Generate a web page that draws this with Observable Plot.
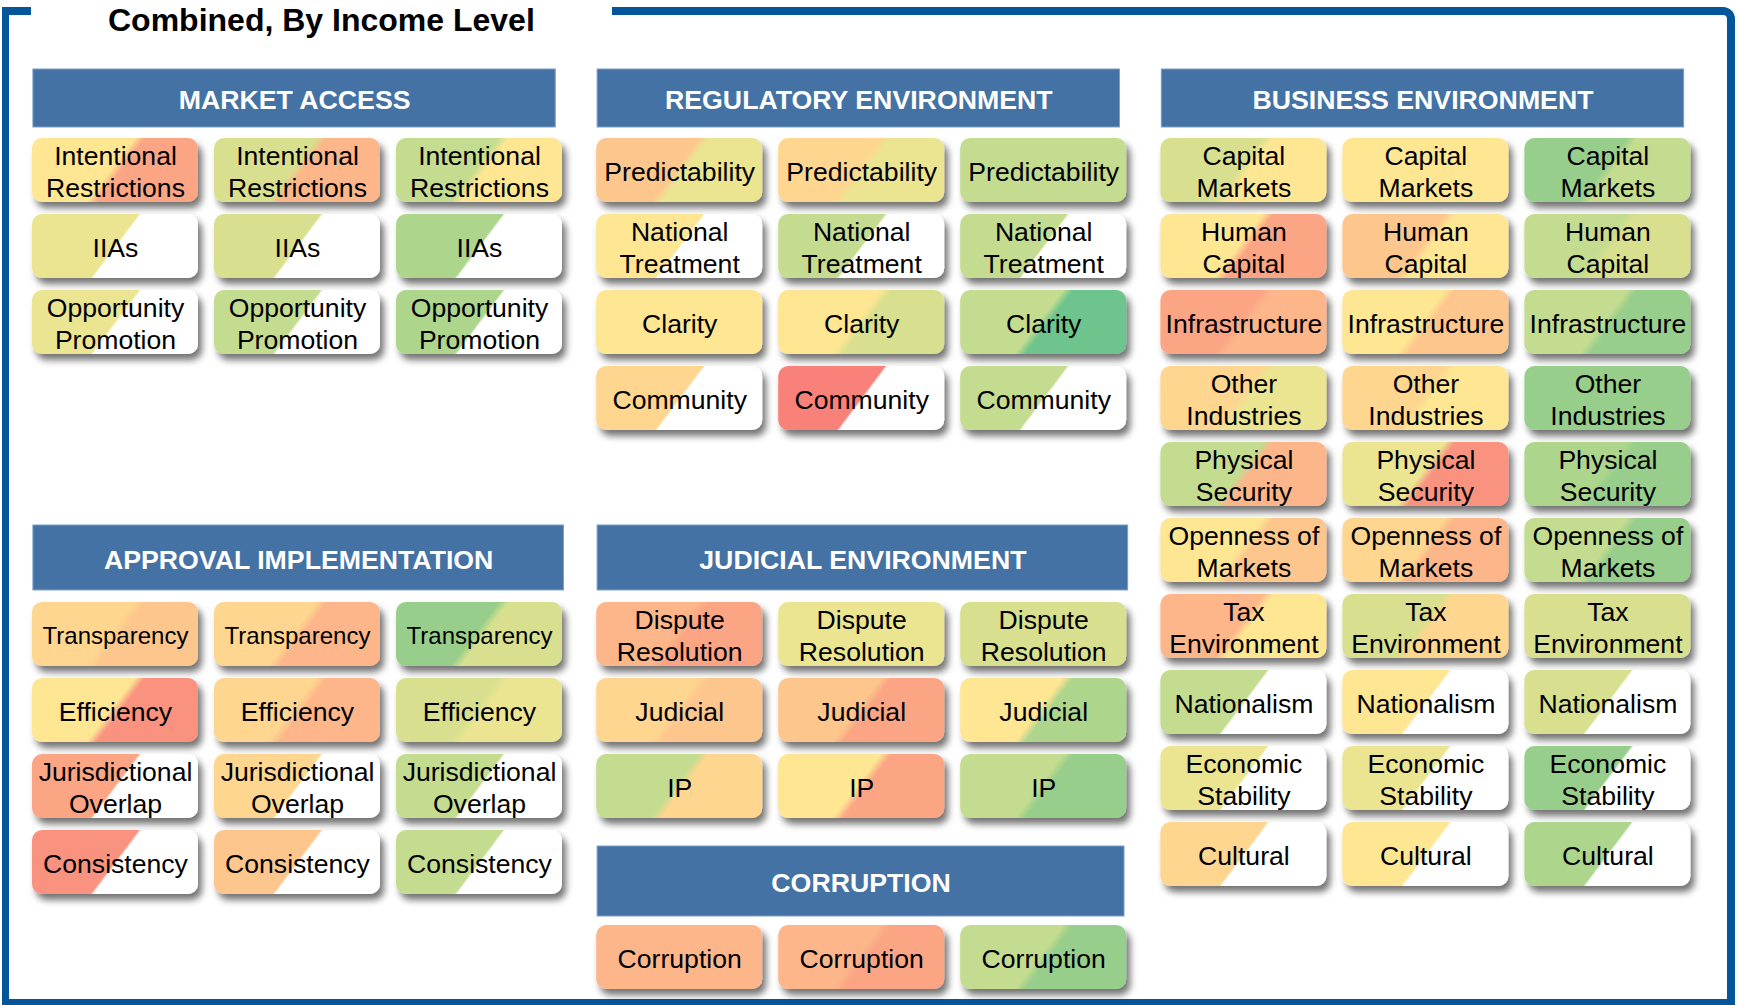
<!DOCTYPE html>
<html>
<head>
<meta charset="utf-8">
<script src="https://cdn.jsdelivr.net/npm/d3@7"></script>
<script src="https://cdn.jsdelivr.net/npm/@observablehq/plot@0.6"></script>
<style>
  html, body { margin: 0; padding: 0; background: #fff; overflow: hidden; }
  #page { position: relative; width: 1737px; height: 1005px; font-family: "Liberation Sans", Arial, sans-serif; }
  #frame { position: absolute; left: 2px; top: 7px; width: 1733px; height: 998px; box-sizing: border-box;
           border-style: solid; border-color: #03569a; border-width: 8px 8px 6px 7px; border-radius: 0 12px 0 0; }
  #mask { position: absolute; left: 31px; top: 0; width: 581px; height: 22px; background: #fff; }
  #title { position: absolute; left: 108px; top: 4px; font-size: 32px; line-height: 32px; font-weight: bold; color: #000; white-space: nowrap; }
  #chart { position: absolute; left: 0; top: 0; }
</style>
</head>
<body>
<div id="page">
  <div id="frame"></div>
  <div id="mask"></div>
  <div id="title">Combined, By Income Level</div>
  <div id="chart"></div>
</div>
<script>
// ---------------- DATA ----------------
// Three income groups (tile columns inside each section)
const incomeGroups = ["Low income", "Middle income", "High income"];

// Colour levels: 0 = no rating (white), 1 = worst (red) ... 13 = best (green)
const levelDomain = [0, 1, 2, 3, 4, 5, 6, 7, 8, 9, 10, 11, 12, 13];
const levelColors = ["#ffffff", "#f8817a", "#f9927f", "#fba585", "#fcb689", "#fdc68c", "#fed68f",
                     "#fee693", "#ebe592", "#d8e08f", "#c4dc8f", "#add58c", "#98ce8b", "#6dc48c"];

const sectionNames = ["MARKET ACCESS", "REGULATORY ENVIRONMENT", "BUSINESS ENVIRONMENT",
                      "APPROVAL IMPLEMENTATION", "JUDICIAL ENVIRONMENT", "CORRUPTION"];

const marketAccessFactors = ["Intentional\nRestrictions", "IIAs", "Opportunity\nPromotion"];
const marketAccessLeft  = [[7, 9, 10], [8, 9, 11], [8, 10, 11]];
const marketAccessRight = [[3, 4, 7], [0, 0, 0], [0, 0, 0]];

const regulatoryFactors = ["Predictability", "National\nTreatment", "Clarity", "Community"];
const regulatoryLeft  = [[5, 6, 10], [7, 10, 10], [7, 7, 10], [6, 1, 10]];
const regulatoryRight = [[8, 8, 10], [0, 0, 0], [7, 9, 13], [0, 0, 0]];

const businessFactors = ["Capital\nMarkets", "Human\nCapital", "Infrastructure", "Other\nIndustries",
                         "Physical\nSecurity", "Openness of\nMarkets", "Tax\nEnvironment", "Nationalism",
                         "Economic\nStability", "Cultural"];
const businessLeft  = [[9, 7, 12], [7, 5, 10], [3, 7, 10], [6, 6, 12], [10, 8, 11],
                       [7, 6, 10], [4, 9, 9], [10, 7, 9], [8, 8, 12], [6, 7, 11]];
const businessRight = [[7, 7, 10], [3, 7, 9], [4, 5, 12], [8, 7, 12], [4, 2, 12],
                       [5, 4, 12], [7, 6, 9], [0, 0, 0], [0, 0, 0], [0, 0, 0]];

const approvalFactors = ["Transparency", "Efficiency", "Jurisdictional\nOverlap", "Consistency"];
const approvalLeft  = [[6, 6, 12], [7, 6, 9], [3, 6, 10], [2, 5, 10]];
const approvalRight = [[5, 4, 9], [2, 4, 8], [0, 0, 0], [0, 0, 0]];

const judicialFactors = ["Dispute\nResolution", "Judicial", "IP"];
const judicialLeft  = [[4, 8, 9], [6, 5, 7], [10, 7, 10]];
const judicialRight = [[3, 8, 9], [5, 3, 11], [6, 3, 12]];

const corruptionFactors = ["Corruption"];
const corruptionLeft  = [[4, 4, 10]];
const corruptionRight = [[4, 3, 12]];

// ---------------- LAYOUT (grid units: x = tile slot, y = tile row) ----------------
const SECTION_PITCH = 3.1, TILE_W = 0.912, TILE_H = 0.842;
const layout = [
  {name: sectionNames[0], col: 0, head: [-0.908, -0.145], hw: 2.875, row0: 0,      factors: marketAccessFactors, left: marketAccessLeft, right: marketAccessRight},
  {name: sectionNames[1], col: 1, head: [-0.908, -0.145], hw: 2.875, row0: 0,      factors: regulatoryFactors,   left: regulatoryLeft,   right: regulatoryRight},
  {name: sectionNames[2], col: 2, head: [-0.908, -0.145], hw: 2.875, row0: 0,      factors: businessFactors,     left: businessLeft,     right: businessRight},
  {name: sectionNames[3], col: 0, head: [5.092, 5.947],   hw: 2.92,  row0: 6.105,  factors: approvalFactors,     left: approvalLeft,     right: approvalRight},
  {name: sectionNames[4], col: 1, head: [5.092, 5.947],   hw: 2.92,  row0: 6.105,  factors: judicialFactors,     left: judicialLeft,     right: judicialRight},
  {name: sectionNames[5], col: 1, head: [9.316, 10.237],  hw: 2.9,   row0: 10.355, factors: corruptionFactors,   left: corruptionLeft,   right: corruptionRight}
];

const headers = layout.map(s => ({
  name: s.name,
  x1: s.col * SECTION_PITCH + 0.005, x2: s.col * SECTION_PITCH + s.hw,
  y1: s.head[0], y2: s.head[1]
}));

const tiles = [];
layout.forEach(s => {
  s.factors.forEach((label, r) => {
    incomeGroups.forEach((g, c) => {
      const x1 = s.col * SECTION_PITCH + c, y1 = s.row0 + r;
      tiles.push({section: s.name, label, income: g, left: s.left[r][c], right: s.right[r][c],
                  x1, x2: x1 + TILE_W, y1, y2: y1 + TILE_H, gid: `g${tiles.length}`});
    });
  });
});

const levelScale = Plot.scale({color: {type: "ordinal", domain: levelDomain, range: levelColors}});

const FONT = "Liberation Sans, Arial, sans-serif";
const chart = Plot.plot({
  width: 1737, height: 1005, margin: 0,
  x: {domain: [-0.17582, 9.36813], range: [0, 1737], axis: null},
  y: {domain: [-1.8158, 11.4079], range: [0, 1005], axis: null},
  color: {type: "identity"},
  style: {background: "transparent", fontFamily: FONT},
  marks: [
    Plot.rect(headers, {x1: "x1", x2: "x2", y1: "y1", y2: "y2", fill: "#4472a4", stroke: "#7d9dc5", strokeWidth: 1}),
    Plot.text(headers, {x: d => (d.x1 + d.x2) / 2, y: d => (d.y1 + d.y2) / 2, text: "name", dy: 2,
      fill: "#fff", fontSize: 26.7, fontWeight: "bold", fontFamily: FONT}),
    Plot.rect(tiles, {x1: "x1", x2: "x2", y1: "y1", y2: "y2", rx: 10,
      fill: d => `url(#${d.gid})`}),
    Plot.text(tiles, {x: d => (d.x1 + d.x2) / 2, y: d => (d.y1 + d.y2) / 2, text: "label",
      fill: "#000", fontSize: d => d.label === "Transparency" ? 24 : 26.6, lineHeight: 1.2, fontFamily: FONT})
  ]
});

const svgEl = chart.tagName.toLowerCase() === "svg" ? chart : chart.querySelector("svg");
const defs = d3.select(svgEl).insert("defs", ":first-child");
const filt = defs.append("filter").attr("id", "tileShadow")
  .attr("x", "-5%").attr("y", "-5%").attr("width", "115%").attr("height", "115%");
filt.append("feDropShadow").attr("dx", 4).attr("dy", 6).attr("stdDeviation", 3.5)
  .attr("flood-color", "#000").attr("flood-opacity", 0.55);
tiles.forEach(t => {
  const lg = defs.append("linearGradient").attr("id", t.gid)
    .attr("x1", 0).attr("y1", 0).attr("x2", 1).attr("y2", 0.29);
  const blend = t.right === 0 ? 0.008 : 0.03;
  lg.append("stop").attr("offset", 0.6 - blend).attr("stop-color", levelScale.apply(t.left));
  lg.append("stop").attr("offset", 0.6 + blend).attr("stop-color", levelScale.apply(t.right));
});
// apply the drop shadow to the group holding the tile rects
d3.select(svgEl).selectAll("g").filter(function() {
  const r = this.querySelector(":scope > rect");
  return r && (r.getAttribute("fill") || "").startsWith("url(");
}).attr("filter", "url(#tileShadow)");

document.getElementById("chart").appendChild(chart);
</script>
</body>
</html>
